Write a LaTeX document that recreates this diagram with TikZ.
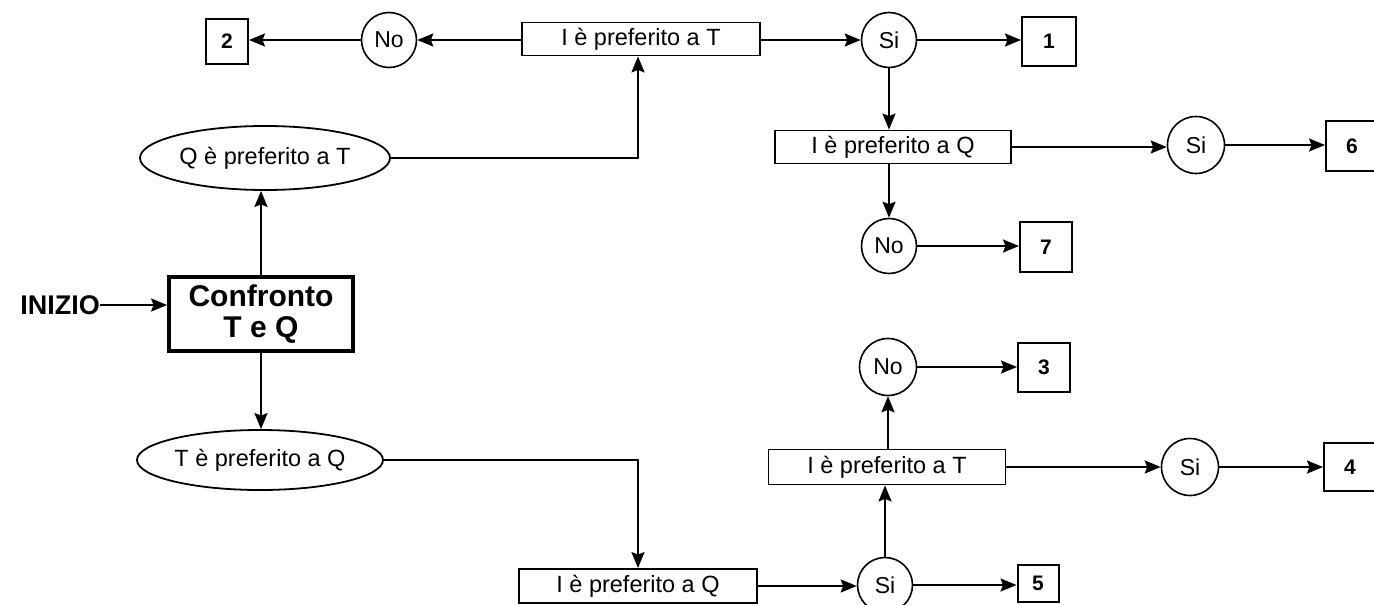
\documentclass[tikz,border=0pt]{standalone}
\usepackage{fontspec}
\setmainfont{Liberation Sans}
\usetikzlibrary{arrows.meta,shapes.geometric}
\begin{document}
\begin{tikzpicture}[x=1pt,y=-1pt,
  conn/.style={line width=2pt,-{Stealth[length=16pt,width=13pt,inset=2.5pt]}},
  cond/.style={draw,line width=1.8pt,minimum height=33pt,minimum width=236pt,inner sep=0pt,font=\fontsize{23.5}{26}\selectfont},
  ans/.style={draw,circle,line width=1.6pt,minimum size=55pt,inner sep=0pt,font=\fontsize{23}{26}\selectfont},
  res/.style={draw,line width=2pt,inner sep=0pt,font=\fontsize{21}{24}\selectfont\bfseries},
  oval/.style={draw,ellipse,line width=1.8pt,inner sep=0pt,font=\fontsize{23.5}{26}\selectfont}
]
\useasboundingbox (0,0) rectangle (1374,605);
\clip (0,0) rectangle (1374,605);
% top branch
\node[res,minimum width=42pt,minimum height=45pt] (b2) at (227,41) {2};
\node[ans] (noT) at (389,40) {No};
\node[cond,minimum width=238pt] (tT) at (641,39) {I è preferito a T};
\node[ans] (siT) at (889,40) {Si};
\node[res,minimum width=54pt,minimum height=49pt] (b1) at (1049,41) {1};
\node[cond] (qT) at (893,147) {I è preferito a Q};
\node[ans,minimum size=57pt] (siR) at (1196,145) {Si};
\node[res,minimum width=52pt,minimum height=50pt] (b6) at (1352,146) {6};
\node[ans] (noR) at (889,246) {No};
\node[res,minimum width=52pt,minimum height=50pt] (b7) at (1046,247) {7};
\node[oval,minimum width=250pt,minimum height=64pt] (eQ) at (265,158) {Q è preferito a T};
% start
\node[draw,line width=3.8pt,minimum width=184pt,minimum height=74pt,inner sep=0pt,align=center,font=\fontsize{30}{31}\selectfont\bfseries] (conf) at (261,314) {Confronto\\T e Q};
\node[inner sep=0pt,font=\fontsize{27}{28}\selectfont\bfseries] (start) at (60,305) {INIZIO};
% bottom branch
\node[oval,minimum width=246pt,minimum height=60pt] (eT) at (260,460) {T è preferito a Q};
\node[cond,minimum width=238pt,minimum height=34pt] (qB) at (638,586) {I è preferito a Q};
\node[ans] (siB) at (885,585) {Si};
\node[res,minimum width=41pt,minimum height=37pt] (b5) at (1038,583) {5};
\node[cond,minimum width=237pt,minimum height=35pt] (tM) at (887,467) {I è preferito a T};
\node[ans,minimum size=57pt] (noM) at (888,367) {No};
\node[res,minimum width=52pt,minimum height=49pt] (b3) at (1044,367) {3};
\node[ans,minimum size=57pt] (siM) at (1190,467) {Si};
\node[res,minimum width=52pt,minimum height=48pt] (b4) at (1350,467) {4};
% connectors top
\draw[conn] (tT.west |- noT.east) -- (noT.east);
\draw[conn] (noT.west) -- (noT.west -| b2.east);
\draw[conn] (tT.east |- siT.west) -- (siT.west);
\draw[conn] (siT.east) -- (siT.east -| b1.west);
\draw[conn] (siT.south) -- (siT.south |- qT.north);
\draw[conn] (qT.east) -- (qT.east -| siR.west);
\draw[conn] (siR.east) -- (siR.east -| b6.west);
\draw[conn] (qT.south -| noR.north) -- (noR.north);
\draw[conn] (noR.east) -- (noR.east -| b7.west);
\draw[conn] (eQ.east) -| ([xshift=-3pt]tT.south);
\draw[conn] (conf.north) -- (conf.north |- eQ.south);
\draw[conn] (start.east) -- (start.east -| conf.west);
% connectors bottom
\draw[conn] (conf.south) -- (conf.south |- eT.north);
\draw[conn] (eT.east) -| (qB.north);
\draw[conn] (qB.east) -- (qB.east -| siB.west);
\draw[conn] (siB.east) -- (siB.east -| b5.west);
\draw[conn] (siB.north) -- (siB.north |- tM.south);
\draw[conn] (tM.north -| noM.south) -- (noM.south);
\draw[conn] (noM.east) -- (noM.east -| b3.west);
\draw[conn] (tM.east) -- (tM.east -| siM.west);
\draw[conn] (siM.east) -- (siM.east -| b4.west);
\end{tikzpicture}
\end{document}
